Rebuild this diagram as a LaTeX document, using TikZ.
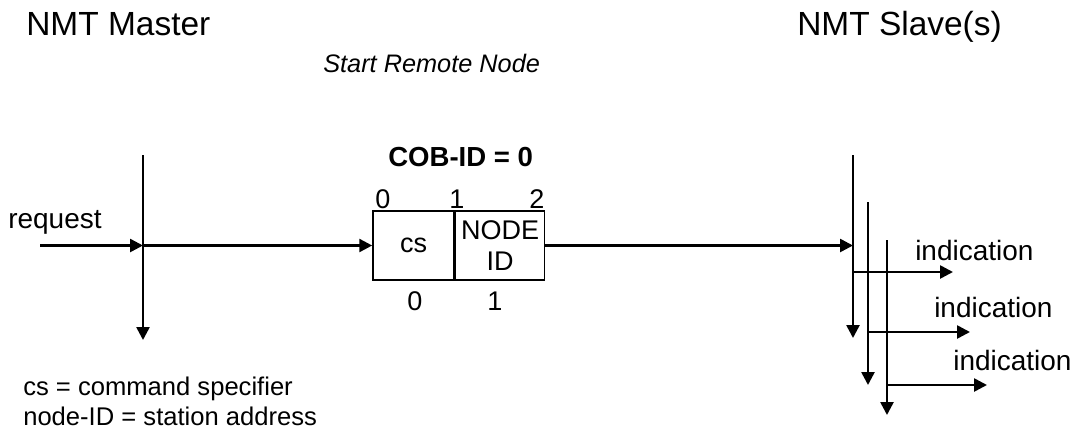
\documentclass[tikz,border=0pt]{standalone}
\usepackage{fontspec}
\setmainfont{Liberation Sans}
\usetikzlibrary{arrows.meta,positioning}
\tikzset{
  sig/.style={line width=1.8pt,-{Triangle[length=3.2mm,width=3.2mm]}},
  title/.style={inner sep=0pt,anchor=base west,font=\fontsize{23.8}{28}\selectfont},
  lbl/.style={inner sep=0pt,anchor=base west,font=\fontsize{19.9}{23}\selectfont},
  digit/.style={inner sep=0pt,anchor=base,font=\fontsize{19.2}{22}\selectfont},
  cell/.style={draw,line width=1.1pt,minimum height=1.725cm,inner sep=0pt,align=center,font=\fontsize{19.2}{22.5}\selectfont}
}
\begin{document}
\begin{tikzpicture}[x=0.025cm,y=-0.025cm]
    \useasboundingbox (0,0) rectangle (1088,430);
    %% titles
    \node[title] (master) at (26,35) {NMT Master};
    \node[title] (slave) at (797,35) {NMT Slave(s)};
    \node[lbl,font=\fontsize{18}{21}\selectfont\itshape] (service) at (323,72) {Start Remote Node};
    %% master time line
    \coordinate (m0) at (143,155);
    \coordinate (m1) at (143,340);
    \draw[sig] (m0) -- (m1);
    %% slave time lines
    \foreach \n/\x/\a/\b in {1/853/155/338,2/868/202/385,3/887/240/415}{
        \coordinate (s\n a) at (\x,\a);
        \coordinate (s\n b) at (\x,\b);
        \draw[sig] (s\n a) -- (s\n b);
    }
    %% message frame
    \node[cell,minimum width=2.025cm] (cs) at (413.5,245.5) {cs};
    \node[cell,minimum width=2.225cm,anchor=west] (nid) at (cs.east) {NODE\\ID};
    \node[lbl,font=\fontsize{19.6}{23}\selectfont\bfseries] (cob) at (388,166) {COB-ID = 0};
    \node[digit] (t0) at (383,208) {0};
    \node[digit] (t1) at (457,208) {1};
    \node[digit] (t2) at (537,208) {2};
    \node[digit] (b0) at (415,310) {0};
    \node[digit] (b1) at (495,310) {1};
    %% request
    \coordinate (req) at (40,245.5);
    \node[lbl] (reqtxt) at (8,228) {request};
    \draw[sig] (req) -- (m0 |- req);
    \draw[sig] (m0 |- cs.west) -- (cs.west);
    \draw[sig] (nid.east) -- (nid.east -| s1a);
    %% indications
    \foreach \n/\y/\e/\tx/\ty in {1/272/953/915/260,2/332/970/934/317,3/385/987/953/370}{
        \coordinate (i\n) at (s\n a |- 0,\y);
        \coordinate (e\n) at (\e,\y);
        \draw[sig] (i\n) -- (e\n);
        \node[lbl] (ind\n) at (\tx,\ty) {indication};
    }
    %% legend
    \node[inner sep=0pt,anchor=base west,align=left,font=\fontsize{18.2}{21.3}\selectfont] (legend) at (23,425) {cs = command specifier\\node-ID = station address};
\end{tikzpicture}
\end{document}
